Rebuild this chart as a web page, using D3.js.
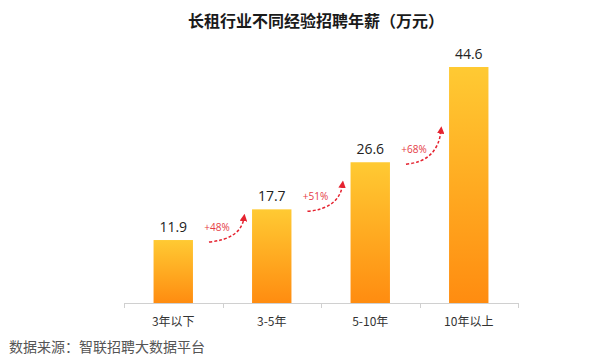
<!DOCTYPE html>
<html>
<head>
<meta charset="UTF-8">
<title></title>
<style>
  body { margin: 0; background: #fff; font-family: 'Noto Sans CJK SC', 'Microsoft YaHei', sans-serif; }
</style>
</head>
<body>
<div id="container"></div>
<script src="https://d3js.org/d3.v7.min.js"></script>
<script>
var categories = ["3年以下", "3-5年", "5-10年", "10年以上"];
var salaries = [11.9, 17.7, 26.6, 44.6];
var growth = ["+48%", "+51%", "+68%"];

var title = "长租行业不同经验招聘年薪（万元）";
var source = "数据来源：智联招聘大数据平台";

var W = 600, H = 363;
var svg = d3.select("#container").append("svg")
  .attr("width", W).attr("height", H);

// gradient for bars
var grad = svg.append("defs").append("linearGradient")
  .attr("id", "barGrad").attr("x1", 0).attr("y1", 0).attr("x2", 0).attr("y2", 1);
grad.append("stop").attr("offset", "0%").attr("stop-color", "#ffca33");
grad.append("stop").attr("offset", "100%").attr("stop-color", "#ff8c10");

var marker = svg.select("defs").append("marker")
  .attr("id", "arrowHead").attr("viewBox", "0 0 10 10")
  .attr("refX", 5).attr("refY", 5)
  .attr("markerWidth", 5).attr("markerHeight", 5)
  .attr("orient", "auto-start-reverse");
marker.append("path").attr("d", "M0,0 L10,5 L0,10 z").attr("fill", "#e52330");

var x = d3.scaleBand().domain(categories).range([124, 518])
  .paddingInner(0.6).paddingOuter(0.3);
var y = d3.scaleLinear().domain([0, 44.6]).range([303, 67]);

// title
svg.append("text")
  .attr("x", 316).attr("y", 27)
  .attr("text-anchor", "middle")
  .style("font-size", "16px").style("font-weight", "bold").style("fill", "#1a1a1a")
  .text(title);

// bars
svg.selectAll(".bar").data(salaries).enter().append("rect")
  .attr("x", function(d, i) { return x(categories[i]); })
  .attr("y", function(d) { return y(d); })
  .attr("width", x.bandwidth())
  .attr("height", function(d) { return y(0) - y(d); })
  .attr("fill", "url(#barGrad)");

// value labels
svg.selectAll(".val").data(salaries).enter().append("text")
  .attr("x", function(d, i) { return x(categories[i]) + x.bandwidth() / 2; })
  .attr("y", function(d) { return y(d) - 8; })
  .attr("text-anchor", "middle")
  .style("font-size", "14px").style("fill", "#222")
  .style("font-family", "'Open Sans', 'Noto Sans', sans-serif")
  .text(function(d) { return d.toFixed(1); });

// axis line and boundary ticks
var r = x.range();
svg.append("line").attr("x1", r[0]).attr("x2", r[1]).attr("y1", y(0) + 0.5).attr("y2", y(0) + 0.5)
  .attr("stroke", "#d0d0d0");
d3.range(categories.length + 1).forEach(function(i) {
  var tx = Math.round(r[0] + i * x.step()) + 0.5;
  svg.append("line").attr("x1", tx).attr("x2", tx).attr("y1", y(0)).attr("y2", y(0) + 5)
    .attr("stroke", "#d0d0d0");
});

var xAxis = svg.append("g").attr("transform", "translate(0," + (y(0) + 4) + ")")
  .call(d3.axisBottom(x).tickSize(0).tickPadding(10));
xAxis.select(".domain").remove();
xAxis.selectAll("text").style("font-size", "12px").style("fill", "#333")
  .style("font-family", "'Noto Sans CJK SC', sans-serif");

// growth arrows
growth.forEach(function(g, i) {
  var sx = x(categories[i]) + x.bandwidth() + 16;
  var sy = y(salaries[i]) + 2;
  var ex = x(categories[i + 1]) - 8;
  var ey = sy - 20 - 0.15 * (y(salaries[i]) - y(salaries[i + 1]));
  var path = d3.path();
  path.moveTo(sx, sy);
  path.quadraticCurveTo(ex - 3, sy - 3, ex, ey);
  svg.append("path").attr("d", path.toString())
    .attr("fill", "none").attr("stroke", "#e52330").attr("stroke-width", 1.5)
    .attr("stroke-dasharray", "3,2")
    .attr("marker-end", "url(#arrowHead)");
  svg.append("text")
    .attr("x", sx + 8).attr("y", sy - 11)
    .attr("text-anchor", "middle")
    .style("font-size", "10px").style("fill", "#e53a45")
    .style("font-family", "'Open Sans', sans-serif")
    .text(g);
});

// source
svg.append("text")
  .attr("x", 9).attr("y", 352)
  .style("font-size", "14px").style("fill", "#555")
  .text(source);
</script>
</body>
</html>
